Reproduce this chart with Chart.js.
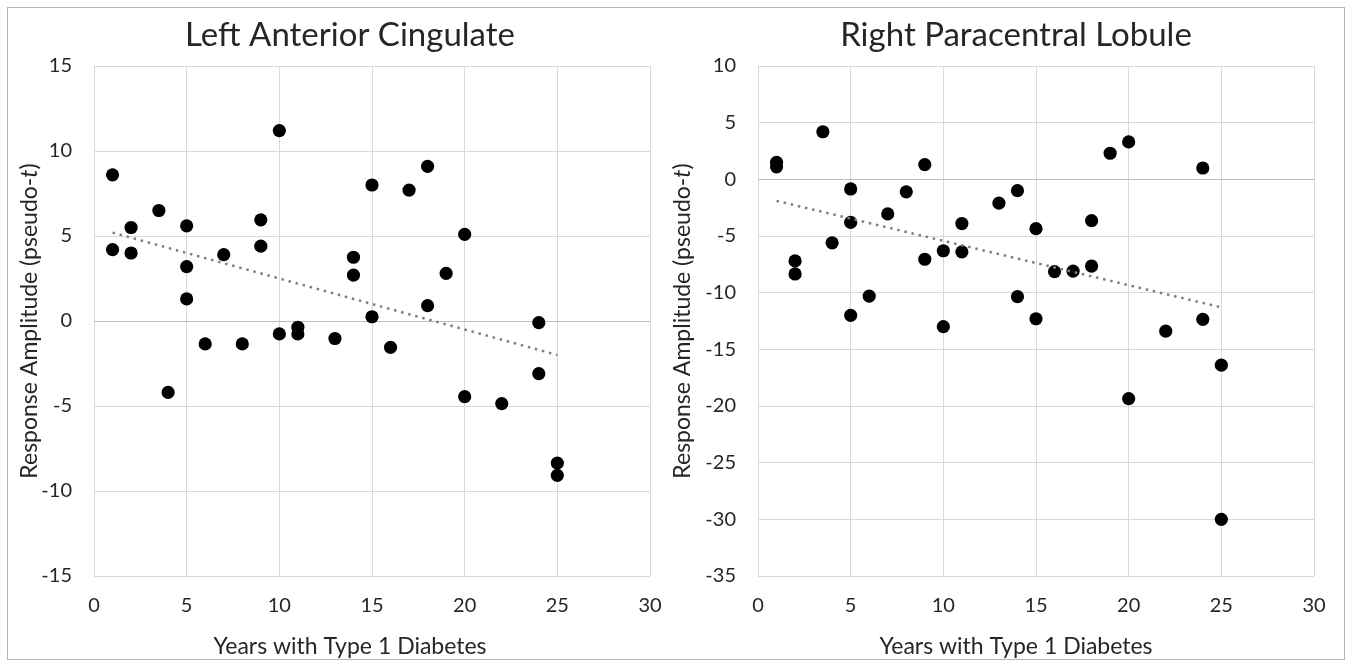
<!DOCTYPE html>
<html>
<head>
<meta charset="utf-8">
<script src="https://cdn.jsdelivr.net/npm/chart.js@4.4.1/dist/chart.umd.min.js"></script>
<style>
  html, body { margin: 0; padding: 0; background: #fff; overflow: hidden; }
  #wrap { position: relative; width: 1352px; height: 663px; overflow: hidden; background: #fff; }
  #frame { position: absolute; left: 7px; top: 7px; width: 1338px; height: 653px; border: 1.5px solid #b4b4b4; box-sizing: border-box; pointer-events: none; }
  .cv { position: absolute; top: 0; height: 663px; }
  #c1wrap { left: 0px; width: 700px; }
  #c2wrap { left: 666px; width: 700px; }
</style>
</head>
<body>
<div id="wrap">
  <div class="cv" id="c1wrap"><canvas id="c1" width="700" height="663"></canvas></div>
  <div class="cv" id="c2wrap"><canvas id="c2" width="700" height="663"></canvas></div>
  <div id="frame"></div>
</div>
<script>
// ---- data ----
const years = [1, 1, 2, 2, 3.5, 4, 5, 5, 5, 6, 7, 8, 9, 9, 10, 10, 11, 11, 13, 14, 14, 15, 15, 16, 17, 18, 18, 19, 20, 20, 22, 24, 24, 25, 25];
const leftTitle = "Left Anterior Cingulate";
const leftValues = [8.6, 4.2, 5.5, 4.0, 6.5, -4.2, 5.6, 3.2, 1.3, -1.35, 3.9, -1.35, 5.95, 4.4, 11.2, -0.76, -0.37, -0.76, -1.03, 3.75, 2.7, 8.0, 0.25, -1.55, 7.7, 9.1, 0.9, 2.8, 5.1, -4.45, -4.86, -0.1, -3.1, -8.36, -9.08];
const rightYears = [1, 1, 2, 2, 3.5, 4, 5, 5, 5, 6, 7, 8, 9, 9, 10, 10, 11, 11, 13, 14, 14, 15, 15, 16, 17, 18, 18, 19, 20, 20, 22, 24, 24, 25, 25];
const rightTitle = "Right Paracentral Lobule";
const rightValues = [1.5, 1.1, -7.2, -8.35, 4.2, -5.6, -0.85, -3.8, -12.0, -10.3, -3.05, -1.1, 1.3, -7.05, -6.3, -13.0, -3.9, -6.4, -2.1, -1.0, -10.35, -4.35, -12.3, -8.15, -8.1, -3.65, -7.65, 2.3, 3.3, -19.35, -13.4, 1.0, -12.35, -16.4, -30.0];
const trendYears = [1, 25];
const leftTrend = [5.2, -2.0];
const rightTrend = [-1.9, -11.3];
const xTicks = [0, 5, 10, 15, 20, 25, 30];
const leftYTicks = [-15, -10, -5, 0, 5, 10, 15];
const rightYTicks = [-35, -30, -25, -20, -15, -10, -5, 0, 5, 10];
const xAxisTitle = "Years with Type 1 Diabetes";
const yAxisTitleParts = ["Response Amplitude (pseudo-", "t", ")"];

// ---- styles ----
const FONT = "Lato, 'Open Sans', sans-serif";
const TXT = '#262626';
const GRID = '#d9d9d9';
const AXIS0 = '#bfbfbf';

Chart.defaults.font.family = FONT;
Chart.defaults.color = TXT;

function toPts(xs, ys) { return xs.map((x, i) => ({ x: x, y: ys[i] })); }

const textPlugin = {
  id: 'texts',
  afterDraw(chart, args, opts) {
    const ctx = chart.ctx;
    const ca = chart.chartArea;
    ctx.save();
    ctx.fillStyle = TXT;
    // chart title
    ctx.font = opts.titleSize + "px " + FONT;
    ctx.textAlign = 'center';
    ctx.textBaseline = 'middle';
    ctx.fillText(opts.title, opts.cx, opts.titleY);
    // x axis title
    ctx.font = opts.axisSize + "px " + FONT;
    ctx.fillText(xAxisTitle, opts.cx, opts.xTitleY);
    // y axis title (rotated, with italic t)
    const cy = (ca.top + ca.bottom) / 2;
    ctx.translate(opts.yTitleX, cy);
    ctx.rotate(-Math.PI / 2);
    const fN = opts.axisSize + "px " + FONT;
    const fI = "italic " + opts.axisSize + "px " + FONT;
    const fonts = [fN, fI, fN];
    const widths = yAxisTitleParts.map((t, i) => { ctx.font = fonts[i]; return ctx.measureText(t).width; });
    const total = widths.reduce((a, b) => a + b, 0);
    let x = -total / 2;
    ctx.textAlign = 'left';
    yAxisTitleParts.forEach((t, i) => {
      ctx.font = fonts[i];
      ctx.fillText(t, x, 0);
      x += widths[i];
    });
    ctx.restore();
  }
};

function makeChart(id, title, xs, ys, trendY, yTicks, yAxisWidth, rightPad, yTitleX) {
  const yMin = yTicks[0], yMax = yTicks[yTicks.length - 1];
  return new Chart(document.getElementById(id), {
    type: 'scatter',
    data: {
      datasets: [
        {
          type: 'line',
          data: toPts(trendYears, trendY),
          borderColor: '#7f7f7f',
          borderWidth: 2.5,
          borderDash: [2.5, 4.8],
          pointRadius: 0,
          fill: false
        },
        {
          data: toPts(xs, ys),
          backgroundColor: '#000000',
          borderColor: '#000000',
          borderWidth: 0,
          pointRadius: 6.6,
          pointHoverRadius: 6.6
        }
      ]
    },
    options: {
      responsive: false,
      animation: false,
      devicePixelRatio: 1,
      events: [],
      layout: { padding: { left: 0, right: rightPad, top: 66, bottom: 0 } },
      plugins: {
        legend: { display: false },
        tooltip: { enabled: false },
        title: { display: false },
        texts: { title: title, cx: 350, titleY: 35, titleSize: 33, axisSize: 23, xTitleY: 647, yTitleX: yTitleX }
      },
      scales: {
        x: {
          type: 'linear',
          min: xTicks[0], max: xTicks[xTicks.length - 1],
          afterBuildTicks: (s) => { s.ticks = xTicks.map(v => ({ value: v })); },
          afterFit: (s) => { s.height = 87; },
          ticks: { padding: 18, font: { size: 20 }, color: TXT, maxRotation: 0 },
          grid: { color: GRID, lineWidth: 1, drawTicks: false },
          border: { display: false },
          title: { display: false }
        },
        y: {
          type: 'linear',
          min: yMin, max: yMax,
          afterBuildTicks: (s) => { s.ticks = yTicks.map(v => ({ value: v })); },
          afterFit: (s) => { s.width = yAxisWidth; },
          ticks: { padding: 22, font: { size: 20 }, color: TXT },
          grid: {
            color: (c) => (c.tick && c.tick.value === 0) ? AXIS0 : GRID,
            lineWidth: 1, drawTicks: false
          },
          border: { display: false }
        }
      }
    },
    plugins: [textPlugin]
  });
}

makeChart('c1', leftTitle, years, leftValues, leftTrend, leftYTicks, 94, 50, 30);
makeChart('c2', rightTitle, rightYears, rightValues, rightTrend, rightYTicks, 92, 52, 17);
</script>
</body>
</html>
